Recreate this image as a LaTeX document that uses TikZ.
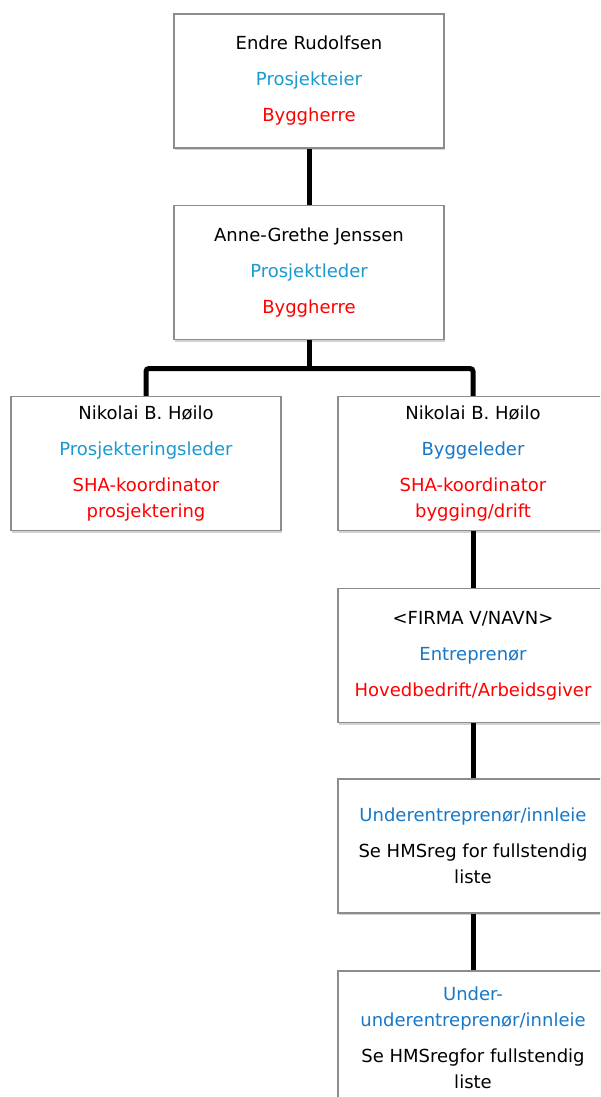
\documentclass[tikz,border=0pt]{standalone}
\usepackage{fontspec}
\setmainfont{DejaVu Sans}
\usetikzlibrary{shadows}
\definecolor{rolleblaa}{HTML}{1B9AD0}
\definecolor{byggblaa}{HTML}{1878C8}
\definecolor{sharod}{HTML}{FF0000}
\definecolor{kant}{HTML}{8C8C8C}
\tikzstyle{person}=[draw=kant,line width=0.6pt,fill=white,minimum width=135pt,
  minimum height=67pt,inner sep=0pt,align=center,font=\fontsize{9}{13}\selectfont,
  drop shadow={shadow xshift=0.6pt,shadow yshift=-1.2pt,opacity=0.35}]
\tikzstyle{edge}=[draw,line width=2.5pt,rounded corners=1.5pt]
\newcommand{\rolle}[1]{\textcolor{rolleblaa}{#1}}
\newcommand{\byggrolle}[1]{\textcolor{byggblaa}{#1}}
\newcommand{\sha}[1]{\textcolor{sharod}{#1}}

\begin{document}
\begin{tikzpicture}
\clip (0,0) rectangle (300pt,-548.5pt);
\fill[white] (0,0) rectangle (300pt,-548.5pt);
% boxes
\node[person] (eier) at (154.5pt,-40.5pt)
  {Endre Rudolfsen\\[5pt]\rolle{Prosjekteier}\\[5pt]\sha{Byggherre}};
\node[person] (leder) at (154.5pt,-136.25pt)
  {Anne-Grethe Jenssen\\[5pt]\rolle{Prosjektleder}\\[5pt]\sha{Byggherre}};
\node[person] (prosj) at (73pt,-231.75pt)
  {Nikolai B. Høilo\\[5pt]\rolle{Prosjekteringsleder}\\[5pt]\sha{SHA-koordinator}\\\sha{prosjektering}};
\node[person] (bygg) at (236.5pt,-231.75pt)
  {Nikolai B. Høilo\\[5pt]\byggrolle{Byggeleder}\\[5pt]\sha{SHA-koordinator}\\\sha{bygging/drift}};
\node[person] (entr) at (236.5pt,-327.75pt)
  {<FIRMA V/NAVN>\\[5pt]\byggrolle{Entreprenør}\\[5pt]\sha{Hovedbedrift/Arbeidsgiver}};
\node[person] (ue) at (236.5pt,-423pt)
  {\byggrolle{Underentreprenør/innleie}\\[5pt]Se HMSreg for fullstendig\\liste};
\node[person] (uue) at (236.5pt,-519pt)
  {\byggrolle{Under-}\\\byggrolle{underentreprenør/innleie}\\[5pt]Se HMSregfor fullstendig\\liste};
% connectors
\coordinate (bus) at (154.5pt,-184.25pt);
\path[edge] (prosj.north) |- (bus) -| (bygg.north);
\path[edge] (leder.south) -- (bus);
\foreach \source/\dest in {eier/leder, bygg/entr, entr/ue, ue/uue}{
  \path[edge] (\source.south) -- (\dest.north);
}
\end{tikzpicture}
\end{document}
